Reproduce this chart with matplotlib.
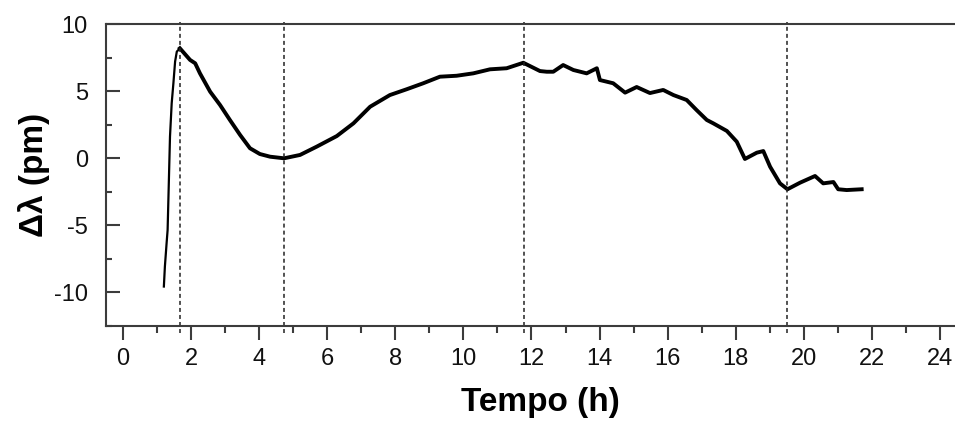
import matplotlib
matplotlib.use("Agg")
import matplotlib.pyplot as plt
from matplotlib.ticker import MultipleLocator

plt.rcParams['font.family'] = ['Liberation Sans', 'DejaVu Sans']
plt.rcParams['axes.unicode_minus'] = False

# --- data ---
time_h = [1.20, 1.23, 1.28, 1.31, 1.35, 1.38, 1.43, 1.48, 1.53, 1.58, 1.67,
          1.97, 2.12, 2.26, 2.56, 2.85, 3.14, 3.44, 3.73, 4.02, 4.32, 4.73,
          5.20, 5.69, 6.28, 6.77, 7.26, 7.84, 8.33, 8.82, 9.31, 9.80, 10.29,
          10.78, 11.27, 11.76, 12.25, 12.45, 12.64, 12.93, 13.23, 13.62, 13.92,
          14.01, 14.40, 14.75, 15.09, 15.48, 15.87, 16.17, 16.56, 16.85, 17.15,
          17.34, 17.74, 18.03, 18.27, 18.62, 18.81, 19.01, 19.30, 19.52, 19.89,
          20.33, 20.57, 20.87, 21.01, 21.26, 21.70]
dlambda_pm = [-9.57, -8.08, -6.34, -5.35, -1.37, 1.62, 4.11, 5.60, 7.22, 7.96, 8.21,
              7.34, 7.09, 6.34, 4.97, 3.98, 2.86, 1.74, 0.75, 0.32, 0.12, 0.00,
              0.25, 0.87, 1.66, 2.61, 3.85, 4.72, 5.15, 5.60, 6.09, 6.16, 6.34,
              6.64, 6.72, 7.13, 6.51, 6.46, 6.46, 6.96, 6.59, 6.34, 6.72,
              5.84, 5.60, 4.90, 5.32, 4.87, 5.10, 4.72, 4.35, 3.60, 2.86,
              2.61, 2.04, 1.24, -0.05, 0.42, 0.54, -0.63, -1.87, -2.31, -1.82,
              -1.32, -1.87, -1.77, -2.31, -2.37, -2.31]
marker_times = [1.67, 4.74, 11.77, 19.52]
x_ticks = [0, 2, 4, 6, 8, 10, 12, 14, 16, 18, 20, 22, 24]
y_ticks = [-10, -5, 0, 5, 10]

W, H = 955, 421
fig = plt.figure(figsize=(W / 100, H / 100), dpi=100)
ax = fig.add_axes([106 / W, 1 - 325.8 / H, 868 / W, 301.5 / H])

ax.plot(time_h[:11], dlambda_pm[:11], color='black', lw=1.6, solid_joinstyle='round')
ax.plot(time_h[10:], dlambda_pm[10:], color='black', lw=2.8, solid_joinstyle='round')

for t in marker_times:
    ax.axvline(t, ymin=-0.023, ymax=1.006, color='#222222', lw=1.1,
               dashes=(2.6, 2.0), clip_on=False)

ax.set_xlim(-0.5, 25)
ax.set_ylim(-12.5, 10)
ax.set_xticks(x_ticks)
ax.set_yticks(y_ticks)
ax.xaxis.set_minor_locator(MultipleLocator(1))
ax.yaxis.set_minor_locator(MultipleLocator(2.5))

spine_col = '#3c3c3c'
for s in ax.spines.values():
    s.set_color(spine_col)
    s.set_linewidth(1.5)

ax.tick_params(axis='x', which='major', direction='out', length=10, width=1.5,
               color=spine_col, labelsize=17, pad=6, labelcolor='#111111')
ax.tick_params(axis='x', which='minor', direction='out', length=5, width=1.5,
               color=spine_col)
ax.tick_params(axis='y', which='major', direction='in', length=10, width=1.5,
               color=spine_col, labelsize=17, pad=13, labelcolor='#111111')
ax.tick_params(axis='y', which='minor', direction='in', length=4.5, width=1.5,
               color=spine_col)

ax.set_xlabel('Tempo (h)', fontsize=24, fontweight='bold', labelpad=12)
ax.set_ylabel('Δλ (pm)', fontsize=24, fontweight='bold', labelpad=3)

fig.savefig('out.png', dpi=100)
